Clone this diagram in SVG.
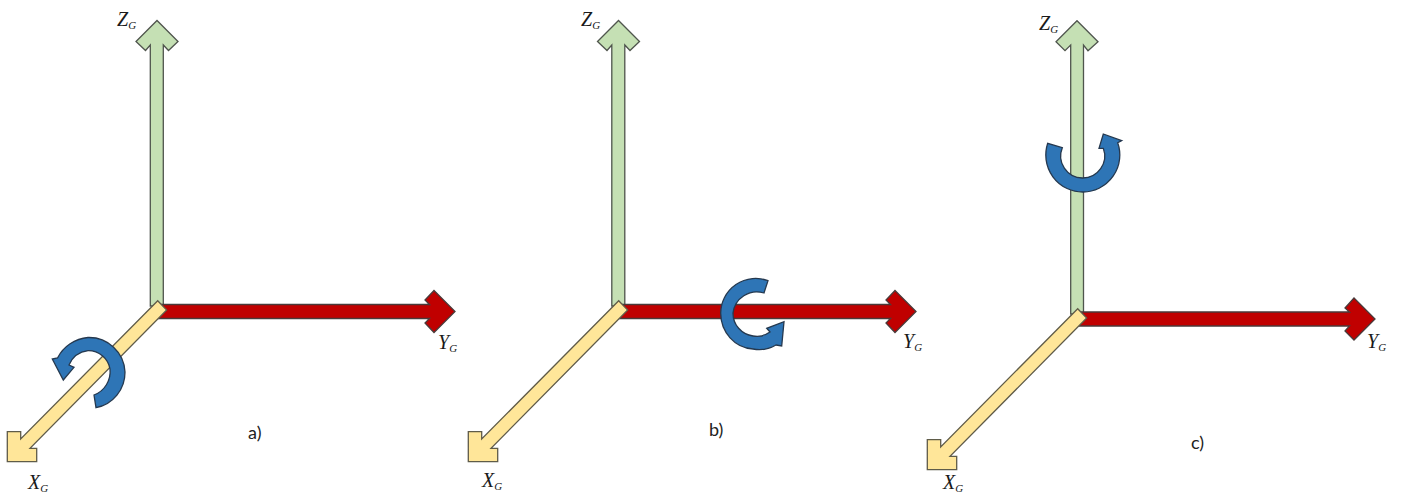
<svg xmlns="http://www.w3.org/2000/svg" width="1401" height="497" viewBox="0 0 1401 497">
<style>
.z{fill:#C5E0B4;stroke:#4f544d;stroke-width:1.3}
.y{fill:#C00000;stroke:#4a3a3a;stroke-width:1.3}
.x{fill:#FFE699;stroke:#5f5b48;stroke-width:1.3}
.r{fill:#2E75B6;stroke:#25394f;stroke-width:1.3}
.l{font-family:"Liberation Serif",serif;font-style:italic;font-size:20px;fill:#1a1a1a}
.s{font-size:11px}
.c{font-family:"Lato","Liberation Sans",sans-serif;font-size:18px;fill:#222}
</style>
<defs><filter id="soft" x="-2%" y="-2%" width="104%" height="104%"><feGaussianBlur stdDeviation="0.45"/></filter></defs>
<rect width="1401" height="497" fill="#fff"/>
<g id="connectors" filter="url(#soft)">
<g id="axes-a">
<path class="z" d="M150.3,306 V45 L145.5,50.5 L136,41.5 L157,20.5 L178,41.5 L168.5,50.5 L163.3,45 V306 Z"/>
<path class="y" d="M158,304.5 H429.5 L425,300 L434,290.5 L455,311.5 L434,332.5 L425,323 L429.5,318.5 H158 Z"/>
<path class="x" d="M157.7,300.7 L20.7,439 V431.7 H7.3 V461.7 H36.7 V448.3 H30 L166.7,310 Z"/>
</g>
<g id="axes-b">
<path class="z" d="M611.8,306 V45 L607,50.5 L597.5,41.5 L618.5,20.5 L639.5,41.5 L630,50.5 L624.8,45 V306 Z"/>
<path class="y" d="M619,304.5 H890.5 L886,300 L895,290.5 L916,311.5 L895,332.5 L886,323 L890.5,318.5 H619 Z"/>
<path class="x" d="M618.7,300.7 L481.7,439 V431.7 H468.3 V461.7 H497.7 V448.3 H491 L627.7,310 Z"/>
</g>
<g id="axes-c">
<path class="z" d="M1070.7,314 V45 L1065,50.7 L1056,41.7 L1077,20.7 L1098,41.7 L1088,50.7 L1083.5,45 V314 Z"/>
<path class="y" d="M1078,312 H1349.5 L1345,308 L1354,298 L1375,319 L1354,340 L1345,331 L1349.5,326 H1078 Z"/>
<path class="x" d="M1077.7,308.7 L940.7,447 V439.7 H927.3 V469.7 H956.7 V456.3 H950 L1086.7,318 Z"/>
</g>
</g>
<g id="rotation-a" filter="url(#soft)"><path class="r" d="M96,407.7 A36,36 0 0 0 125,372 A36,36 0 0 0 88,337.5 A38,38 0 0 0 57.5,358 L52.3,359 L63.3,380 L74,367.3 L69,365 A24,24 0 0 1 88,350.7 A22,22 0 0 1 110,369 A25,25 0 0 1 94,395 Z"/></g>
<g id="rotation-b" filter="url(#soft)"><path class="r" d="M768,280.7 A35,35 0 0 0 720.7,313 A34,36 0 0 0 753,349 A33,33 0 0 0 776,345 L781.7,346 L784,321.7 L766.7,328.3 L770,332 A22,22 0 0 1 753,336 A23,23 0 0 1 733,313 A24,24 0 0 1 764,293 Z"/></g>
<g id="rotation-c" filter="url(#soft)"><path class="r" d="M1047.7,143.3 A37,37 0 1 0 1117.7,142.7 L1121.7,140.7 L1103.3,134 L1099,148.3 L1103.3,148.3 A22,22 0 1 1 1062.3,147.7 Z"/></g>
<g id="labels">
<text class="l" x="117" y="26">Z<tspan class="s" dy="3">G</tspan></text>
<text class="l" x="438" y="349">Y<tspan class="s" dy="3">G</tspan></text>
<text class="l" x="28" y="489">X<tspan class="s" dy="3">G</tspan></text>
<text class="l" x="581" y="26">Z<tspan class="s" dy="3">G</tspan></text>
<text class="l" x="903" y="348">Y<tspan class="s" dy="3">G</tspan></text>
<text class="l" x="482" y="487">X<tspan class="s" dy="3">G</tspan></text>
<text class="l" x="1039" y="30">Z<tspan class="s" dy="3">G</tspan></text>
<text class="l" x="1367" y="348">Y<tspan class="s" dy="3">G</tspan></text>
<text class="l" x="943" y="489">X<tspan class="s" dy="3">G</tspan></text>
<text class="c" x="248" y="439">a)</text>
<text class="c" x="709" y="436">b)</text>
<text class="c" x="1191" y="449">c)</text>
</g>
</svg>
